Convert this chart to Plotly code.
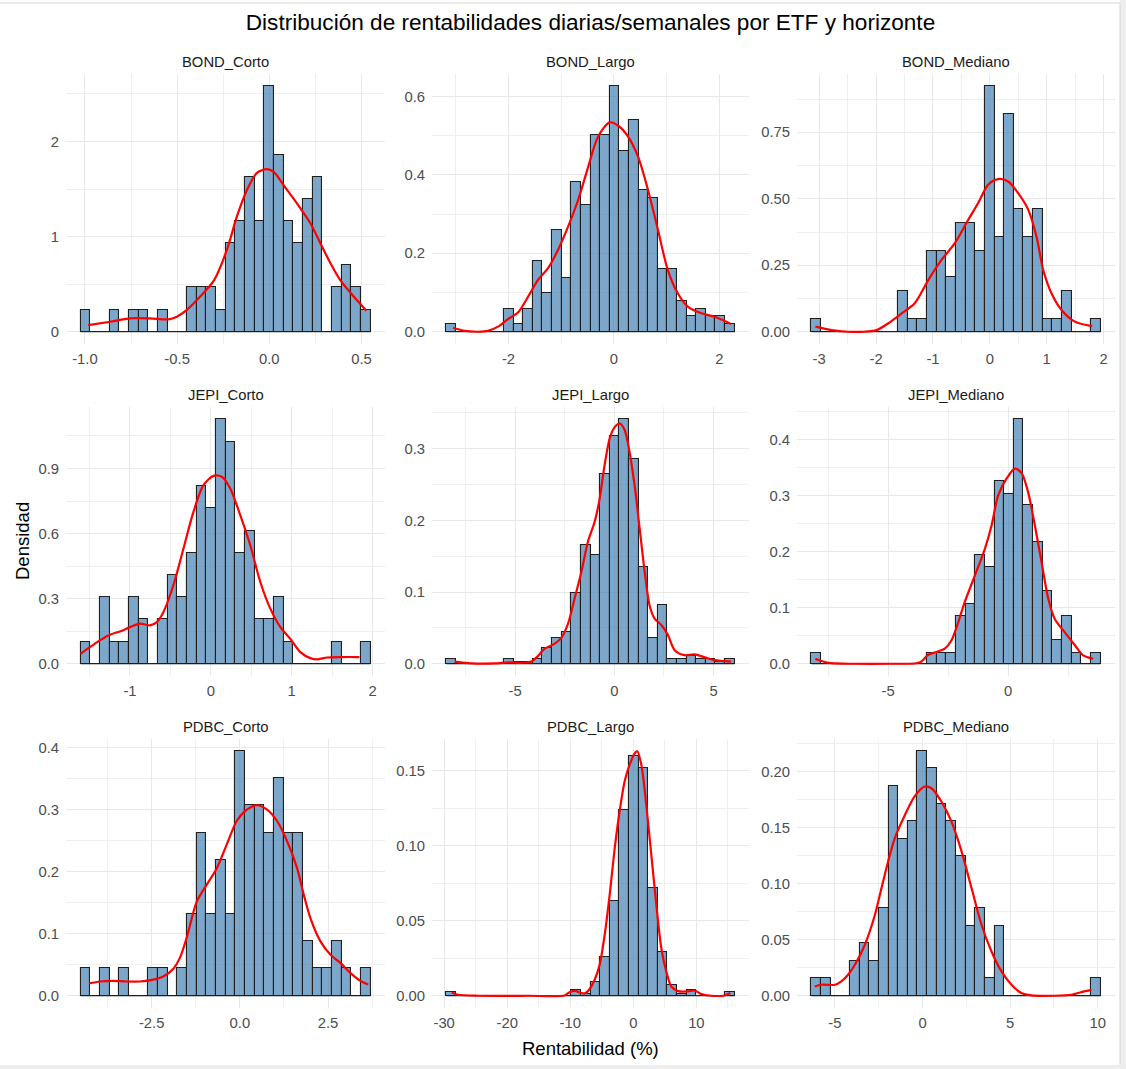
import numpy as np
import plotly.graph_objects as go

# ---------------- data ----------------
panel_names = ["BOND_Corto", "BOND_Largo", "BOND_Mediano",
               "JEPI_Corto", "JEPI_Largo", "JEPI_Mediano",
               "PDBC_Corto", "PDBC_Largo", "PDBC_Mediano"]

# histogram range (left edge of first bin, right edge of last bin), 30 bins each
bond_corto_edges = [-1.024, 0.549]
bond_largo_edges = [-3.178, 2.288]
bond_mediano_edges = [-3.136, 1.946]
jepi_corto_edges = [-1.612, 1.975]
jepi_largo_edges = [-8.456, 6.057]
jepi_mediano_edges = [-8.194, 3.847]
pdbc_corto_edges = [-4.517, 3.703]
pdbc_largo_edges = [-29.64, 16.06]
pdbc_mediano_edges = [-6.34, 10.166]

# histogram densities (30 bins)
bond_corto_heights = [0.23, 0, 0, 0.23, 0, 0.23, 0.23, 0, 0.23, 0, 0, 0.47, 0.47, 0.47, 0.23,
                      0.93, 1.16, 1.63, 1.16, 2.58, 1.86, 1.16, 0.93, 1.40, 1.63, 0, 0.47, 0.70, 0.47, 0.23]
bond_largo_heights = [0.020, 0, 0, 0, 0, 0, 0.058, 0.020, 0.058, 0.18, 0.10, 0.26, 0.138, 0.381, 0.324,
                      0.503, 0.503, 0.626, 0.46, 0.541, 0.361, 0.342, 0.161, 0.161, 0.079, 0.039, 0.058, 0.039, 0.039, 0.020]
bond_mediano_heights = [0.049, 0, 0, 0, 0, 0, 0, 0, 0, 0.153, 0.049, 0.049, 0.304, 0.304, 0.204,
                        0.41, 0.41, 0.304, 0.923, 0.356, 0.818, 0.461, 0.356, 0.461, 0.049, 0.049, 0.153, 0, 0, 0.049]
jepi_corto_heights = [0.102, 0, 0.307, 0.102, 0.102, 0.307, 0.205, 0, 0.205, 0.41, 0.307, 0.512, 0.82, 0.717, 1.127,
                      1.024, 0.512, 0.614, 0.205, 0.205, 0.307, 0.102, 0, 0, 0, 0, 0.102, 0, 0, 0.102]
jepi_largo_heights = [0.006, 0, 0, 0, 0, 0, 0.006, 0.003, 0.003, 0.006, 0.022, 0.036, 0.045, 0.098, 0.165,
                      0.151, 0.264, 0.318, 0.341, 0.286, 0.135, 0.036, 0.082, 0.006, 0.006, 0.011, 0.006, 0.006, 0.003, 0.006]
jepi_mediano_heights = [0.020, 0, 0, 0, 0, 0, 0, 0, 0, 0, 0, 0, 0.020, 0.020, 0.020,
                        0.085, 0.107, 0.194, 0.172, 0.325, 0.303, 0.436, 0.283, 0.218, 0.13, 0.042, 0.085, 0.020, 0, 0.020]
pdbc_corto_heights = [0.044, 0, 0.044, 0, 0.044, 0, 0, 0.044, 0.044, 0, 0.044, 0.131, 0.263, 0.131, 0.219,
                      0.131, 0.394, 0.307, 0.307, 0.263, 0.351, 0.263, 0.263, 0.088, 0.044, 0.044, 0.088, 0.044, 0, 0.044]
pdbc_largo_heights = [0.0027, 0, 0, 0, 0, 0, 0, 0, 0, 0, 0, 0, 0, 0.004, 0.0013,
                      0.009, 0.026, 0.063, 0.124, 0.16, 0.152, 0.072, 0.029, 0.0069, 0.0013, 0.004, 0, 0, 0, 0.0027]
pdbc_mediano_heights = [0.0156, 0.0156, 0, 0, 0.031, 0.047, 0.031, 0.078, 0.187, 0.14, 0.156, 0.218, 0.203, 0.171, 0.156,
                        0.125, 0.062, 0.078, 0.0156, 0.062, 0, 0, 0, 0, 0, 0, 0, 0, 0, 0.0156]

# kernel density curves
bond_corto_dens_x = [-0.982, -0.864, -0.755, -0.647, -0.547, -0.502, -0.447, -0.375, -0.30, -0.23, -0.176, -0.121,
                     -0.067, -0.013, 0.024, 0.078, 0.150, 0.223, 0.277, 0.332, 0.386, 0.458, 0.527]
bond_corto_dens_y = [0.07, 0.105, 0.14, 0.14, 0.13, 0.158, 0.23, 0.37, 0.54, 0.86, 1.21, 1.49,
                     1.67, 1.71, 1.68, 1.54, 1.35, 1.14, 0.93, 0.72, 0.54, 0.37, 0.22]
bond_largo_dens_x = [-3.05, -2.83, -2.58, -2.39, -2.2, -2.01, -1.82, -1.63, -1.44, -1.25, -1.06, -0.87, -0.68, -0.49,
                     -0.30, -0.08, 0.076, 0.265, 0.455, 0.645, 0.834, 1.02, 1.21, 1.40, 1.66, 1.91, 2.22]
bond_largo_dens_y = [0.010, 0.002, 0.0, 0.002, 0.013, 0.032, 0.049, 0.089, 0.132, 0.162, 0.209, 0.268, 0.336, 0.42,
                     0.498, 0.534, 0.526, 0.498, 0.447, 0.362, 0.26, 0.158, 0.098, 0.064, 0.047, 0.038, 0.0196]
bond_mediano_dens_x = [-3.066, -2.78, -2.49, -2.2, -1.99, -1.79, -1.55, -1.32, -1.08, -0.85, -0.615, -0.38, -0.205,
                       -0.03, 0.147, 0.322, 0.498, 0.674, 0.82, 0.938, 1.085, 1.26, 1.495, 1.80]
bond_mediano_dens_y = [0.019, 0.006, 0.0, 0.0, 0.006, 0.031, 0.069, 0.107, 0.195, 0.27, 0.333, 0.421, 0.484,
                       0.553, 0.574, 0.565, 0.521, 0.459, 0.358, 0.232, 0.144, 0.082, 0.038, 0.021]
jepi_corto_dens_x = [-1.612, -1.496, -1.372, -1.248, -1.124, -0.999, -0.876, -0.752, -0.669, -0.587, -0.463, -0.339,
                     -0.215, -0.091, 0.033, 0.136, 0.24, 0.364, 0.488, 0.612, 0.736, 0.86, 0.983, 1.107, 1.231,
                     1.314, 1.438, 1.603, 1.839]
jepi_corto_dens_y = [0.046, 0.077, 0.108, 0.134, 0.149, 0.169, 0.185, 0.177, 0.192, 0.238, 0.362, 0.53,
                     0.70, 0.823, 0.866, 0.862, 0.808, 0.685, 0.546, 0.377, 0.254, 0.169, 0.115, 0.054, 0.026,
                     0.02, 0.029, 0.031, 0.031]
jepi_largo_dens_x = [-8.04, -7.37, -6.02, -5.35, -4.68, -4.18, -3.84, -3.51, -3.0, -2.67, -2.33, -2.0, -1.66, -1.33,
                     -0.99, -0.74, -0.49, -0.235, 0.017, 0.27, 0.52, 0.77, 1.02, 1.28, 1.53, 1.78, 2.03, 2.37,
                     2.70, 3.04, 3.54, 4.04, 4.55, 5.05, 5.89]
jepi_largo_dens_y = [0.003, 0.001, 0.0005, 0.002, 0.0014, 0.003, 0.011, 0.021, 0.028, 0.036, 0.056, 0.091, 0.128,
                     0.170, 0.198, 0.23, 0.277, 0.314, 0.33, 0.335, 0.326, 0.295, 0.249, 0.188, 0.128, 0.081,
                     0.063, 0.054, 0.040, 0.019, 0.012, 0.013, 0.009, 0.005, 0.003]
jepi_mediano_dens_x = [-8.03, -7.78, -7.36, -6.39, -5.0, -3.82, -3.61, -3.33, -2.99, -2.64, -2.36, -2.08, -1.81,
                       -1.39, -0.97, -0.69, -0.42, -0.07, 0.28, 0.56, 0.83, 1.11, 1.39, 1.67, 1.94, 2.36, 2.78,
                       3.125, 3.54]
jepi_mediano_dens_y = [0.009, 0.005, 0.001, 0.0, 0.0, 0.001, 0.004, 0.016, 0.021, 0.027, 0.042, 0.074, 0.11,
                       0.157, 0.205, 0.247, 0.30, 0.33, 0.348, 0.34, 0.306, 0.247, 0.181, 0.116, 0.080, 0.056,
                       0.033, 0.015, 0.009]
pdbc_corto_dens_x = [-4.27, -3.97, -3.59, -3.21, -2.83, -2.45, -2.17, -1.88, -1.70, -1.51, -1.22, -0.94, -0.65,
                     -0.37, -0.085, 0.20, 0.48, 0.77, 1.05, 1.34, 1.62, 1.81, 2.0, 2.28, 2.57, 2.85, 3.13, 3.42, 3.64]
pdbc_corto_dens_y = [0.020, 0.023, 0.024, 0.023, 0.023, 0.026, 0.031, 0.044, 0.061, 0.093, 0.152, 0.179, 0.206,
                     0.244, 0.282, 0.30, 0.307, 0.30, 0.282, 0.249, 0.206, 0.163, 0.125, 0.088, 0.066, 0.053,
                     0.037, 0.024, 0.018]
pdbc_largo_dens_x = [-28.8, -27.8, -24.6, -16.7, -10.9, -10.1, -9.3, -8.5, -7.7, -6.9, -6.13, -5.34, -4.54, -3.75,
                     -2.96, -2.17, -1.37, -0.58, 0.21, 0.63, 1.27, 2.06, 2.85, 3.65, 4.44, 5.23, 6.02, 7.08,
                     8.66, 9.72, 10.78, 12.36, 14.47, 15.4]
pdbc_largo_dens_y = [0.0022, 0.0007, 0.0, 0.0, 0.0002, 0.0024, 0.0033, 0.0022, 0.0016, 0.0047, 0.0107, 0.0206,
                     0.0406, 0.0672, 0.098, 0.123, 0.143, 0.154, 0.1615, 0.163, 0.154, 0.127, 0.094, 0.0606,
                     0.0317, 0.0162, 0.0062, 0.0031, 0.0029, 0.0035, 0.0011, 0.0, 0.0002, 0.0018]
pdbc_mediano_dens_x = [-6.15, -5.77, -5.0, -4.63, -4.25, -3.86, -3.29, -2.72, -2.34, -1.96, -1.58, -1.01, -0.44,
                       0.133, 0.51, 1.085, 1.66, 2.23, 2.80, 3.37, 3.94, 4.51, 5.08, 5.65, 6.22, 7.56, 8.51,
                       9.08, 9.65]
pdbc_mediano_dens_y = [0.0083, 0.0098, 0.0098, 0.0128, 0.0187, 0.0276, 0.0455, 0.072, 0.096, 0.12, 0.1406,
                       0.161, 0.178, 0.1866, 0.185, 0.173, 0.155, 0.1287, 0.096, 0.0633, 0.0395, 0.0217,
                       0.0098, 0.0024, 0.0003, 0.0, 0.0009, 0.0033, 0.0053]

# tick labels
bond_corto_xticks = [-1.0, -0.5, 0.0, 0.5]
bond_corto_xlabels = ["-1.0", "-0.5", "0.0", "0.5"]
bond_largo_xticks = [-2, 0, 2]
bond_largo_xlabels = ["-2", "0", "2"]
bond_mediano_xticks = [-3, -2, -1, 0, 1, 2]
bond_mediano_xlabels = ["-3", "-2", "-1", "0", "1", "2"]
jepi_corto_xticks = [-1, 0, 1, 2]
jepi_corto_xlabels = ["-1", "0", "1", "2"]
jepi_largo_xticks = [-5, 0, 5]
jepi_largo_xlabels = ["-5", "0", "5"]
jepi_mediano_xticks = [-5, 0]
jepi_mediano_xlabels = ["-5", "0"]
pdbc_corto_xticks = [-2.5, 0.0, 2.5]
pdbc_corto_xlabels = ["-2.5", "0.0", "2.5"]
pdbc_largo_xticks = [-30, -20, -10, 0, 10]
pdbc_largo_xlabels = ["-30", "-20", "-10", "0", "10"]
pdbc_mediano_xticks = [-5, 0, 5, 10]
pdbc_mediano_xlabels = ["-5", "0", "5", "10"]

bond_corto_yticks = [0, 1, 2]
bond_corto_ylabels = ["0", "1", "2"]
bond_largo_yticks = [0, 0.2, 0.4, 0.6]
bond_largo_ylabels = ["0.0", "0.2", "0.4", "0.6"]
bond_mediano_yticks = [0, 0.25, 0.5, 0.75]
bond_mediano_ylabels = ["0.00", "0.25", "0.50", "0.75"]
jepi_corto_yticks = [0, 0.3, 0.6, 0.9]
jepi_corto_ylabels = ["0.0", "0.3", "0.6", "0.9"]
jepi_largo_yticks = [0, 0.1, 0.2, 0.3]
jepi_largo_ylabels = ["0.0", "0.1", "0.2", "0.3"]
jepi_mediano_yticks = [0, 0.1, 0.2, 0.3, 0.4]
jepi_mediano_ylabels = ["0.0", "0.1", "0.2", "0.3", "0.4"]
pdbc_corto_yticks = [0, 0.1, 0.2, 0.3, 0.4]
pdbc_corto_ylabels = ["0.0", "0.1", "0.2", "0.3", "0.4"]
pdbc_largo_yticks = [0, 0.05, 0.10, 0.15]
pdbc_largo_ylabels = ["0.00", "0.05", "0.10", "0.15"]
pdbc_mediano_yticks = [0, 0.05, 0.10, 0.15, 0.20]
pdbc_mediano_ylabels = ["0.00", "0.05", "0.10", "0.15", "0.20"]

title_text = "Distribución de rentabilidades diarias/semanales por ETF y horizonte"
x_title = "Rentabilidad (%)"
y_title = "Densidad"

panels = [
    (bond_corto_edges, bond_corto_heights, bond_corto_dens_x, bond_corto_dens_y,
     bond_corto_xticks, bond_corto_xlabels, bond_corto_yticks, bond_corto_ylabels),
    (bond_largo_edges, bond_largo_heights, bond_largo_dens_x, bond_largo_dens_y,
     bond_largo_xticks, bond_largo_xlabels, bond_largo_yticks, bond_largo_ylabels),
    (bond_mediano_edges, bond_mediano_heights, bond_mediano_dens_x, bond_mediano_dens_y,
     bond_mediano_xticks, bond_mediano_xlabels, bond_mediano_yticks, bond_mediano_ylabels),
    (jepi_corto_edges, jepi_corto_heights, jepi_corto_dens_x, jepi_corto_dens_y,
     jepi_corto_xticks, jepi_corto_xlabels, jepi_corto_yticks, jepi_corto_ylabels),
    (jepi_largo_edges, jepi_largo_heights, jepi_largo_dens_x, jepi_largo_dens_y,
     jepi_largo_xticks, jepi_largo_xlabels, jepi_largo_yticks, jepi_largo_ylabels),
    (jepi_mediano_edges, jepi_mediano_heights, jepi_mediano_dens_x, jepi_mediano_dens_y,
     jepi_mediano_xticks, jepi_mediano_xlabels, jepi_mediano_yticks, jepi_mediano_ylabels),
    (pdbc_corto_edges, pdbc_corto_heights, pdbc_corto_dens_x, pdbc_corto_dens_y,
     pdbc_corto_xticks, pdbc_corto_xlabels, pdbc_corto_yticks, pdbc_corto_ylabels),
    (pdbc_largo_edges, pdbc_largo_heights, pdbc_largo_dens_x, pdbc_largo_dens_y,
     pdbc_largo_xticks, pdbc_largo_xlabels, pdbc_largo_yticks, pdbc_largo_ylabels),
    (pdbc_mediano_edges, pdbc_mediano_heights, pdbc_mediano_dens_x, pdbc_mediano_dens_y,
     pdbc_mediano_xticks, pdbc_mediano_xlabels, pdbc_mediano_yticks, pdbc_mediano_ylabels),
]

# ---------------- layout geometry ----------------
W, H = 1126, 1069
ML, MR, MT, MB = 66, 11, 74, 61
PW, PH = W - ML - MR, H - MT - MB


def px_x(px):
    return (px - ML) / PW


def px_y(py):
    return (H - MB - py) / PH


col_px = [(66, 385), (432, 749), (797, 1115)]
row_px = [(74, 344), (407, 676), (739, 1008)]

FONT = "Liberation Sans, Arial, sans-serif"
TICK_COLOR = "#4d4d4d"
GRID_MAJOR = "#e8e8e8"
GRID_MINOR = "#efefef"


def minor_ticks(major, lo, hi):
    major = list(major)
    step = major[1] - major[0]
    cands = [major[0] - step / 2] + [m + step / 2 for m in major]
    return [c for c in cands if lo <= c <= hi]


fig = go.Figure()
layout_axes = {}
annotations = []

for i, (edges, heights, dx, dy, xt, xl, yt, yl) in enumerate(panels):
    r, c = divmod(i, 3)
    idx = "" if i == 0 else str(i + 1)
    xa, ya = "x" + idx, "y" + idx
    nb = len(heights)
    bw = (edges[1] - edges[0]) / nb
    centers = edges[0] + bw * (np.arange(nb) + 0.5)

    # baseline under empty bins (ggplot draws zero-height bars as a line)
    fig.add_trace(go.Scatter(x=[edges[0], edges[1]], y=[0, 0], mode="lines",
                             line=dict(color="#1f1f1f", width=1), xaxis=xa, yaxis=ya,
                             showlegend=False, hoverinfo="skip"))
    fig.add_trace(go.Bar(x=centers, y=heights, width=bw, xaxis=xa, yaxis=ya,
                         marker=dict(color="rgba(70,130,180,0.7)",
                                     line=dict(color="#1f1f1f", width=1.1)),
                         showlegend=False))
    fig.add_trace(go.Scatter(x=dx, y=dy, mode="lines", xaxis=xa, yaxis=ya,
                             line=dict(color="#ff0000", width=2.2, shape="spline", smoothing=0.8),
                             showlegend=False))

    xspan = edges[1] - edges[0]
    xr = [edges[0] - 0.05 * xspan, edges[1] + 0.05 * xspan]
    ymax = max(max(heights), max(dy))
    yr = [-0.05 * ymax, 1.05 * ymax]

    c0, c1 = col_px[c]
    r0, r1 = row_px[r]
    layout_axes["xaxis" + idx] = dict(
        domain=[px_x(c0), px_x(c1)], anchor=ya, range=xr, tickvals=xt, ticktext=xl,
        showgrid=True, gridcolor=GRID_MAJOR, gridwidth=1, zeroline=False, showline=False,
        ticks="", ticklabelstandoff=4, tickfont=dict(size=14.8, color=TICK_COLOR, family=FONT),
        minor=dict(tickvals=minor_ticks(xt, xr[0], xr[1]), showgrid=True,
                   gridcolor=GRID_MINOR, gridwidth=1, ticks=""),
        fixedrange=True)
    layout_axes["yaxis" + idx] = dict(
        domain=[px_y(r1), px_y(r0)], anchor=xa, range=yr, tickvals=yt, ticktext=yl,
        showgrid=True, gridcolor=GRID_MAJOR, gridwidth=1, zeroline=False, showline=False,
        ticks="", ticklabelstandoff=6, tickfont=dict(size=14.8, color=TICK_COLOR, family=FONT),
        minor=dict(tickvals=minor_ticks(yt, yr[0], yr[1]), showgrid=True,
                   gridcolor=GRID_MINOR, gridwidth=1, ticks=""),
        fixedrange=True)

    annotations.append(dict(text=panel_names[i], xref="paper", yref="paper",
                            x=(px_x(c0) + px_x(c1)) / 2, y=px_y(r0 - 12),
                            xanchor="center", yanchor="middle", showarrow=False,
                            font=dict(size=14.8, color="#1a1a1a", family=FONT)))

annotations.append(dict(text=x_title, xref="paper", yref="paper", x=0.5, y=px_y(1048),
                        xanchor="center", yanchor="middle", showarrow=False,
                        font=dict(size=18.5, color="#000000", family=FONT)))
annotations.append(dict(text=y_title, xref="paper", yref="paper", x=px_x(22), y=px_y(541),
                        xanchor="center", yanchor="middle", showarrow=False, textangle=-90,
                        font=dict(size=18.5, color="#000000", family=FONT)))

shapes = [
    dict(type="rect", xref="paper", yref="paper", x0=px_x(1120), x1=px_x(1130),
         y0=px_y(1075), y1=px_y(-5), fillcolor="#eeeeee", line=dict(width=0), layer="below"),
    dict(type="rect", xref="paper", yref="paper", x0=px_x(-5), x1=px_x(1130),
         y0=px_y(1075), y1=px_y(1065), fillcolor="#eeeeee", line=dict(width=0), layer="below"),
    dict(type="line", xref="paper", yref="paper", x0=px_x(0), x1=px_x(1120),
         y0=px_y(3), y1=px_y(3), line=dict(color="#d6d6d6", width=1), layer="below"),
    dict(type="line", xref="paper", yref="paper", x0=px_x(1120), x1=px_x(1120),
         y0=px_y(3), y1=px_y(1065), line=dict(color="#d6d6d6", width=1), layer="below"),
]

fig.update_layout(
    width=W, height=H,
    margin=dict(l=ML, r=MR, t=MT, b=MB, autoexpand=False),
    paper_bgcolor="white", plot_bgcolor="rgba(0,0,0,0)",
    title=dict(text=title_text, x=0.5, xref="paper", y=1 - 22 / H, yref="container",
               xanchor="center", yanchor="middle",
               font=dict(size=22.6, color="#000000", family=FONT)),
    annotations=annotations, shapes=shapes, showlegend=False, bargap=0,
    **layout_axes,
)

fig.write_html("out.html", config={"displayModeBar": False})
